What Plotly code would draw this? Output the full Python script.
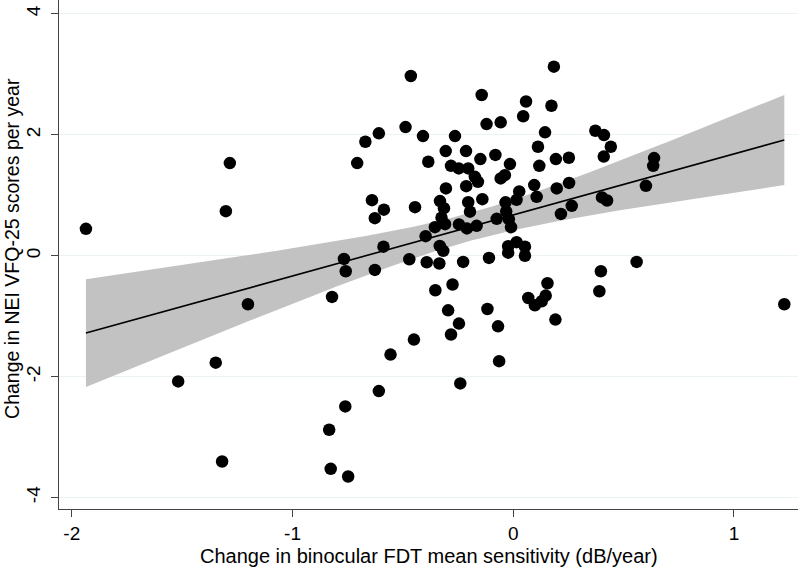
import numpy as np
import plotly.graph_objects as go

# Change in binocular FDT mean sensitivity (dB/year)
fdt_change = [
    -1.936, -1.284, -1.302, -1.202, -1.348, -1.518, -1.319, -0.464, 0.184, -0.670,
    -0.609, -0.488, -0.409, -0.707, -0.385, -0.640, -0.586, -0.627, -0.445, -0.588,
    -0.397, -0.264, -0.121, -0.306, -0.214, -0.149, -0.282, -0.247, -0.204, -0.174,
    -0.160, -0.213, -0.305, -0.332, -0.314, -0.204, -0.196, -0.140, -0.325, -0.309,
    -0.355, -0.246, -0.210, -0.166, -0.333, -0.143, 0.058, 0.173, 0.045, -0.057,
    0.372, 0.411, 0.442, 0.410, 0.144, 0.112, -0.081, 0.193, 0.252, -0.015,
    0.118, -0.038, -0.057, 0.095, 0.197, 0.253, 0.027, 0.015, 0.106, -0.035,
    -0.032, 0.265, 0.216, 0.402, 0.425, -0.075, -0.020, -0.010, -0.023, 0.015,
    0.053, 0.638, 0.634, 0.601, -0.767, -0.759, -0.627, -0.471, -0.392, -0.335,
    -0.317, -0.227, -0.110, -0.821, -0.353, -0.275, -0.295, -0.246, -0.282, -0.117,
    -0.450, -0.556, -0.240, -0.609, -0.761, -0.834, -0.827, -0.748, -0.023, 0.053,
    0.397, 0.390, 0.559, 1.228, 0.155, 0.068, 0.098, 0.147, 0.129, 0.191,
    -0.069, -0.064,
]
# Change in NEI VFQ-25 scores per year
vfq_change = [
    0.444, 1.532, 0.737, -0.803, -1.769, -2.079, -3.404, 2.973, 3.127, 1.885,
    2.024, 2.128, 1.979, 1.532, 1.554, 0.919, 0.762, 0.621, 0.803, 0.149,
    0.323, 1.979, 2.178, 1.731, 1.731, 1.598, 1.487, 1.444, 1.444, 1.305,
    1.222, 1.151, 1.113, 0.903, 0.787, 0.886, 0.729, 0.936, 0.629, 0.522,
    0.472, 0.518, 0.451, 0.494, 0.162, 2.658, 2.551, 2.481, 2.307, 2.206,
    2.067, 1.996, 1.802, 1.640, 2.041, 1.802, 1.668, 1.598, 1.620, 1.516,
    1.487, 1.333, 1.279, 1.168, 1.113, 1.204, 1.063, 0.924, 0.974, 0.883,
    0.732, 0.825, 0.691, 0.964, 0.914, 0.610, 0.605, 0.472, 0.157, 0.224,
    0.149, 1.615, 1.487, 1.156, -0.053, -0.257, -0.235, -0.058, -0.108, -0.129,
    0.080, -0.103, -0.036, -0.682, -0.571, -0.477, -0.903, -1.123, -1.304, -0.881,
    -1.388, -1.635, -2.112, -2.239, -2.493, -2.879, -3.525, -3.652, 0.050, 0.000,
    -0.257, -0.588, -0.103, -0.803, -0.455, -0.699, -0.820, -0.659, -0.754, -1.057,
    -1.168, -1.744,
]

x_ticks = [-2, -1, 0, 1]
x_tick_labels = ["-2", "-1", "0", "1"]
y_ticks = [-4, -2, 0, 2, 4]
y_tick_labels = ["-4", "-2", "0", "2", "4"]
x_title = "Change in binocular FDT mean sensitivity (dB/year)"
y_title = "Change in NEI VFQ-25 scores per year"
t_crit = 1.98  # 95% two-sided t quantile, df ~ 120

# Linear fit with 95% CI of the mean prediction (as Stata lfitci)
xa = np.array(fdt_change)
ya = np.array(vfq_change)
n = len(xa)
slope, intercept = np.polyfit(xa, ya, 1)
resid = ya - (intercept + slope * xa)
s = np.sqrt(np.sum(resid ** 2) / (n - 2))
xbar = xa.mean()
sxx = np.sum((xa - xbar) ** 2)
xg = np.linspace(xa.min(), xa.max(), 200)
yg = intercept + slope * xg
hw = t_crit * s * np.sqrt(1.0 / n + (xg - xbar) ** 2 / sxx)
upper = yg + hw
lower = yg - hw

fig = go.Figure()
fig.add_trace(go.Scatter(
    x=np.concatenate([xg, xg[::-1]]), y=np.concatenate([upper, lower[::-1]]),
    fill="toself", fillcolor="#c2c2c2", line=dict(width=0), mode="lines",
    hoverinfo="skip", showlegend=False,
))
fig.add_trace(go.Scatter(
    x=fdt_change, y=vfq_change, mode="markers",
    marker=dict(color="black", size=12.5, line=dict(width=0)),
    showlegend=False,
))
fig.add_trace(go.Scatter(
    x=xg, y=yg, mode="lines", line=dict(color="black", width=1.6),
    showlegend=False,
))

font_family = "Liberation Sans, Arial, Helvetica, sans-serif"
fig.update_layout(
    width=800, height=571,
    margin=dict(l=59, r=2, t=0, b=62),
    plot_bgcolor="white", paper_bgcolor="white",
    font=dict(family=font_family, color="black", size=19),
    showlegend=False,
    annotations=[
        dict(text=x_title, xref="paper", yref="paper", x=0.5, y=0,
             xanchor="center", yanchor="middle", yshift=-47, showarrow=False,
             font=dict(size=20, color="black")),
        dict(text=y_title, xref="paper", yref="paper", x=0, y=0.511,
             xanchor="center", yanchor="middle", xshift=-47, textangle=-90,
             showarrow=False, font=dict(size=19.5, color="black")),
    ],
)
fig.update_xaxes(
    range=[-2.058, 1.290], tickvals=x_ticks, ticktext=x_tick_labels,
    showgrid=False, zeroline=False, showline=True, linecolor="#444444", linewidth=1.2,
    ticks="outside", ticklen=7, tickcolor="#444444", tickwidth=1,
    tickfont=dict(size=19), automargin=False,
)
fig.update_yaxes(
    range=[-4.19, 4.23], tickvals=y_ticks, ticktext=y_tick_labels, tickangle=-90,
    showgrid=True, gridcolor="#eaf2f3", gridwidth=1, zeroline=False,
    showline=True, linecolor="#444444", linewidth=1.2,
    ticks="outside", ticklen=7, tickcolor="#444444", tickwidth=1,
    tickfont=dict(size=19), automargin=False, ticklabelstandoff=3,
)

fig.write_html(
    "out.html",
    config={"displayModeBar": False, "staticPlot": True},
    post_script="document.body.style.margin='0';document.body.style.overflow='hidden';",
)
